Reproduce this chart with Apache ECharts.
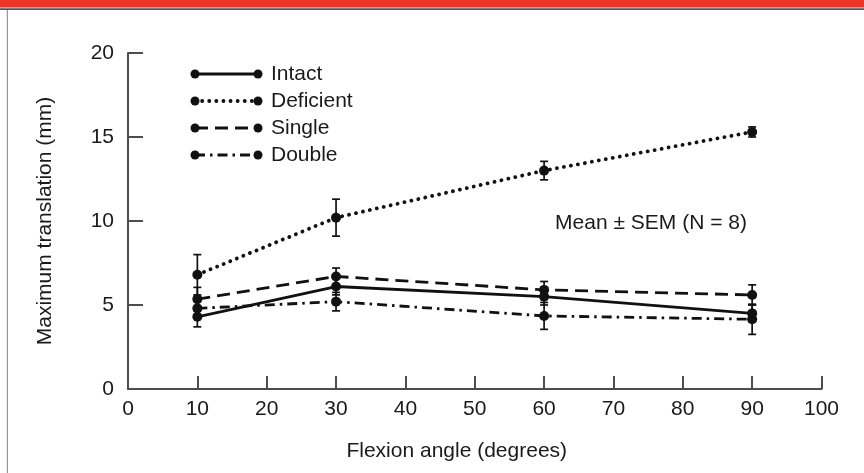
<!DOCTYPE html>
<html>
<head>
<meta charset="utf-8">
<script src="https://cdn.jsdelivr.net/npm/echarts@6/dist/echarts.min.js"></script>
<style>
  html, body { margin: 0; padding: 0; background: #fff; }
  #chart { width: 864px; height: 473px; }
</style>
</head>
<body>
<div id="chart"></div>
<script>
// Values
const flexion = [10, 30, 60, 90];
const seriesNames = ['Intact', 'Deficient', 'Single', 'Double'];
const intact = [4.3, 6.1, 5.5, 4.5];
const deficient = [6.8, 10.2, 13.0, 15.3];
const single = [5.35, 6.7, 5.9, 5.6];
const double = [4.8, 5.2, 4.35, 4.15];
const intactSem = [0.6, 0.5, 0.5, 0.5];
const deficientSem = [1.2, 1.1, 0.55, 0.3];
const singleSem = [0.7, 0.5, 0.5, 0.6];
const doubleSem = [0.5, 0.55, 0.8, 0.9];
const xTicks = [0, 10, 20, 30, 40, 50, 60, 70, 80, 90, 100];
const yTicks = [0, 5, 10, 15, 20];

const ink = '#111';
const textInk = '#1a1a1a';
const axisGray = '#4d4d4d';
const font = '"Liberation Sans", Arial, Helvetica, sans-serif';

// line dash patterns for each group
const styles = [
  { type: 'solid', dash: null, cap: 'butt', width: 2.8 },
  { type: [0.1, 7], dash: [0.1, 7], cap: 'round', width: 3.8 },
  { type: [13, 7], dash: [13, 7], cap: 'butt', width: 2.8 },
  { type: [10, 5, 2.5, 5], dash: [10, 5, 2.5, 5], cap: 'butt', width: 2.8 }
];
const means = [intact, deficient, single, double];
const sems = [intactSem, deficientSem, singleSem, doubleSem];

const chart = echarts.init(document.getElementById('chart'), null, { renderer: 'canvas' });

const lineSeries = means.map((vals, i) => ({
  name: seriesNames[i],
  type: 'line',
  data: flexion.map((x, k) => [x, vals[k]]),
  symbol: 'circle',
  symbolSize: 10,
  itemStyle: { color: ink },
  lineStyle: { color: ink, width: styles[i].width, type: styles[i].type, cap: styles[i].cap },
  z: 3,
  silent: true
}));

const errorSeries = means.map((vals, i) => ({
  type: 'custom',
  data: flexion.map((x, k) => [x, vals[k] - sems[i][k], vals[k] + sems[i][k]]),
  renderItem: (params, api) => {
    const lo = api.coord([api.value(0), api.value(1)]);
    const hi = api.coord([api.value(0), api.value(2)]);
    const w = 4;
    const st = { stroke: ink, lineWidth: 1.7 };
    return {
      type: 'group',
      children: [
        { type: 'line', shape: { x1: lo[0], y1: lo[1], x2: hi[0], y2: hi[1] }, style: st },
        { type: 'line', shape: { x1: hi[0] - w, y1: hi[1], x2: hi[0] + w, y2: hi[1] }, style: st },
        { type: 'line', shape: { x1: lo[0] - w, y1: lo[1], x2: lo[0] + w, y2: lo[1] }, style: st }
      ]
    };
  },
  z: 2,
  silent: true
}));

// hand-drawn legend with markers at both ends of the sample line
const legendRows = [74, 101, 128, 155];
const legendGraphics = [];
seriesNames.forEach((name, i) => {
  const y = legendRows[i];
  legendGraphics.push({
    type: 'line', shape: { x1: 195, y1: y, x2: 258, y2: y },
    style: { stroke: ink, lineWidth: styles[i].width, lineDash: styles[i].dash, lineCap: styles[i].cap }
  });
  legendGraphics.push({ type: 'circle', shape: { cx: 195, cy: y, r: 4.5 }, style: { fill: ink } });
  legendGraphics.push({ type: 'circle', shape: { cx: 258, cy: y, r: 4.5 }, style: { fill: ink } });
  legendGraphics.push({
    type: 'text', x: 271, y: y,
    style: { text: name, font: '21px ' + font, fill: textInk, verticalAlign: 'middle' }
  });
});

const option = {
  backgroundColor: '#fff',
  animation: false,
  grid: { left: 128, right: 42.5, top: 53, bottom: 84 },
  xAxis: {
    type: 'value',
    min: 0, max: 100, interval: 10,
    name: 'Flexion angle (degrees)',
    nameLocation: 'middle',
    nameGap: 52,
    nameTextStyle: { fontFamily: font, fontSize: 21, color: textInk, verticalAlign: 'top', padding: [0, 36, 0, 0] },
    axisLine: { show: true, lineStyle: { color: axisGray, width: 2 } },
    axisTick: { show: true, inside: true, length: 13, lineStyle: { color: axisGray, width: 2 } },
    axisLabel: {
      fontFamily: font, fontSize: 21, color: textInk, margin: 10,
      formatter: v => xTicks.includes(v) ? String(v) : ''
    },
    splitLine: { show: false }
  },
  yAxis: {
    type: 'value',
    min: 0, max: 20, interval: 5,
    name: 'Maximum translation (mm)',
    nameLocation: 'middle',
    nameGap: 72,
    nameTextStyle: { fontFamily: font, fontSize: 21, color: textInk },
    axisLine: { show: true, lineStyle: { color: axisGray, width: 2 } },
    axisTick: { show: true, inside: true, length: 15, lineStyle: { color: axisGray, width: 2 } },
    axisLabel: {
      fontFamily: font, fontSize: 21, color: textInk, margin: 14,
      formatter: v => yTicks.includes(v) ? String(v) : ''
    },
    splitLine: { show: false }
  },
  graphic: [
    { type: 'rect', shape: { x: 0, y: 0, width: 864, height: 7.5 }, style: { fill: '#ee3426' } },
    { type: 'rect', shape: { x: 0, y: 8.3, width: 864, height: 1.8 }, style: { fill: '#555' } },
    { type: 'rect', shape: { x: 6.8, y: 10, width: 1.2, height: 463 }, style: { fill: '#999' } },
    {
      type: 'text', x: 651, y: 223,
      style: { text: 'Mean \u00b1 SEM (N = 8)', font: '21px ' + font, fill: textInk, align: 'center', verticalAlign: 'middle' }
    }
  ].concat(legendGraphics),
  series: errorSeries.concat(lineSeries)
};

chart.setOption(option);
</script>
</body>
</html>
